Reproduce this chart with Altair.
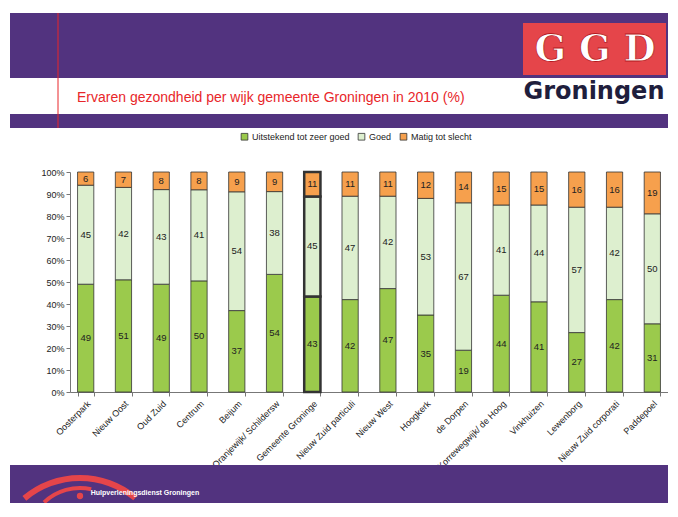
import altair as alt
import pandas as pd

wijken = ["Oosterpark", "Nieuw Oost", "Oud Zuid", "Centrum", "Beijum",
          "Oranjewijk/ Schildersw", "Gemeente Groninge", "Nieuw Zuid particuli",
          "Nieuw West", "Hoogkerk", "de Dorpen", "Korrewegwijk/ de Hoog",
          "Vinkhuizen", "Lewenborg", "Nieuw Zuid corporati", "Paddepoel"]
uitstekend = [49, 51, 49, 50, 37, 54, 43, 42, 47, 35, 19, 44, 41, 27, 42, 31]
goed = [45, 42, 43, 41, 54, 38, 45, 47, 42, 53, 67, 41, 44, 57, 42, 50]
matig = [6, 7, 8, 8, 9, 9, 11, 11, 11, 12, 14, 15, 15, 16, 16, 19]
categorieen = ["Uitstekend tot zeer goed", "Goed", "Matig tot slecht"]
kleuren = ["#9BCA4C", "#DDEFCF", "#F6A04D"]
y_ticks = [0, 0.1, 0.2, 0.3, 0.4, 0.5, 0.6, 0.7, 0.8, 0.9, 1.0]
titel = "Ervaren gezondheid per wijk gemeente Groningen in 2010 (%)"

rows = []
for i, w in enumerate(wijken):
    for k, (cat, vals) in enumerate(zip(categorieen, [uitstekend, goed, matig])):
        rows.append({"wijk": w, "cat": cat, "order": k, "value": vals[i]})
df = pd.DataFrame(rows)

FONT = "Liberation Sans"
PURPLE = "#52337F"

base = alt.Chart(df).transform_stack(
    stack="value", groupby=["wijk"], sort=[alt.SortField("order")],
    as_=["y0", "y1"], offset="normalize"
).transform_calculate(mid="(datum.y0 + datum.y1) / 2")

xscale = alt.Scale(paddingInner=0.57, paddingOuter=0.2)
yscale = alt.Scale(domain=[0, 1])
xaxis = alt.Axis(labelAngle=-45, labelFontSize=9, labelColor="#222",
                 labelFont=FONT, tickBand="extent", tickSize=4,
                 tickColor="#777", domainColor="#777", labelPadding=3,
                 labelLimit=200)
yaxis = alt.Axis(format=".0%", values=y_ticks, labelOverlap=False,
                 grid=False, labelFontSize=9, labelColor="#222",
                 labelFont=FONT, tickSize=4, tickColor="#777",
                 domainColor="#777", labelPadding=2)

bars = base.mark_bar(stroke="#333333").encode(
    x=alt.X("wijk:N", sort=wijken, title=None, scale=xscale, axis=xaxis),
    y=alt.Y("y0:Q", scale=yscale, title=None, axis=yaxis),
    y2="y1:Q",
    color=alt.Color("cat:N", scale=alt.Scale(domain=categorieen, range=kleuren),
                    legend=alt.Legend(title=None, orient="none", direction="horizontal",
                                      legendX=170, legendY=-40, symbolType="square",
                                      symbolSize=45, symbolStrokeColor="#333",
                                      symbolStrokeWidth=0.8, labelFontSize=9,
                                      labelFont=FONT, labelColor="#222",
                                      columnPadding=6, labelOffset=3)),
    order=alt.Order("order:Q"),
    strokeWidth=alt.condition(alt.datum.wijk == "Gemeente Groninge",
                              alt.value(2.5), alt.value(0.8)),
)

labels = base.mark_text(fontSize=9.5, color="#222", font=FONT).encode(
    x=alt.X("wijk:N", sort=wijken, title=None, scale=xscale, axis=xaxis),
    y=alt.Y("mid:Q", scale=yscale, title=None, axis=yaxis),
    text=alt.Text("value:Q"),
)

one = alt.Data(values=[{"a": 1}])

def rect(x, x2, y, y2, color):
    return alt.Chart(one).mark_rect(color=color).encode(
        x=alt.value(x), x2=alt.value(x2), y=alt.value(y), y2=alt.value(y2))

def txt(x, y, text, **kw):
    return alt.Chart(one).mark_text(text=text, **kw).encode(
        x=alt.value(x), y=alt.value(y))

deco = [
    rect(-60, 600, -159, -94, PURPLE),
    rect(-60, 600, -58, -44, PURPLE),
    rect(-60, 600, 293, 335, PURPLE),
    rect(453, 596, -149, -97, "#E5454A"),
    alt.Chart(one).mark_rule(color="#E8262A", strokeWidth=1).encode(
        x=alt.value(-12), y=alt.value(-159), y2=alt.value(-44)),
    txt(7, -74, titel, align="left", fontSize=14, color="#E8262A",
        font="Liberation Sans Narrow, Arial Narrow, Liberation Sans"),
    txt(525, -122, "G G D", align="center", baseline="middle", fontSize=37,
        fontWeight="bold", color="white", stroke="#B51820", strokeWidth=0.8,
        font="DejaVu Serif"),
    txt(524, -80, "Groningen", align="center", baseline="middle", fontSize=24,
        fontWeight="bold", color="#1F1E3D", font="DejaVu Sans"),
    alt.Chart(one).mark_arc(color="#E5454A", theta=5.58, theta2=6.98,
                            radius=89, radius2=83).encode(
        x=alt.value(10), y=alt.value(392)),
    alt.Chart(one).mark_arc(color="#E5454A", theta=5.52, theta2=6.5,
                            radius=54, radius2=50).encode(
        x=alt.value(10), y=alt.value(368)),
    alt.Chart(one).mark_point(filled=True, color="#E5454A", size=40, opacity=1).encode(
        x=alt.value(10), y=alt.value(324)),
    txt(75, 321, "Hulpverleningsdienst Groningen", align="center", fontSize=7,
        fontWeight="bold", color="white", font=FONT),
]

chart = alt.layer(*deco, bars, labels).properties(
    width=598, height=220,
    padding={"left": 62, "top": 164, "right": 0, "bottom": 111},
    autosize=alt.AutoSizeParams(type="none"),
    background="white",
).configure_view(stroke=None)

chart.save("out.html", embed_options={"renderer": "svg", "actions": False})
